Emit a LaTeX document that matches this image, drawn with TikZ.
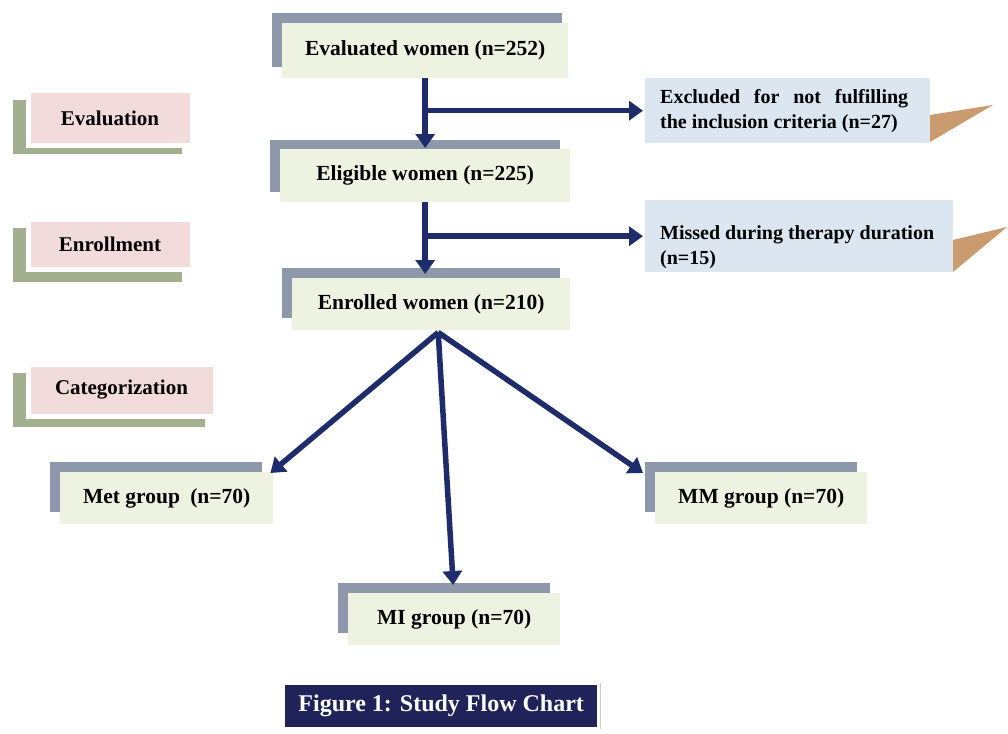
\documentclass[tikz,border=0pt]{standalone}
\usepackage{fontspec}
\setmainfont{Liberation Serif}
\usetikzlibrary{arrows.meta}
\definecolor{brgray}{HTML}{8D99AA}
\definecolor{boxg}{HTML}{EEF2E1}
\definecolor{sideb}{HTML}{DCE6F1}
\definecolor{tri}{HTML}{C99B6E}
\definecolor{pinkb}{HTML}{F2DCDB}
\definecolor{brgreen}{HTML}{A3B08F}
\definecolor{navy}{HTML}{1F2359}
\definecolor{arrowc}{HTML}{1F2C6B}
\begin{document}
\begin{tikzpicture}[x=1pt,y=-1pt,
  mainbox/.style={fill=boxg, anchor=north west, inner sep=0pt,
    font=\fontsize{21.5}{25}\selectfont\bfseries},
  sidebox/.style={fill=sideb, anchor=north west, inner sep=0pt},
  sidetext/.style={anchor=west, inner sep=0pt, align=left,
    font=\fontsize{20}{25}\selectfont\bfseries},
  labelbox/.style={fill=pinkb, draw=white, line width=5pt, anchor=north west,
    inner sep=0pt, font=\fontsize{21}{25}\selectfont\bfseries},
  bracket/.style={fill=brgray},
  gbracket/.style={fill=brgreen},
  foldtri/.style={fill=tri},
  arr/.style={draw=arrowc, line width=5.5pt, -{Triangle[length=14pt,width=19pt]}},
  captionbox/.style={fill=navy, anchor=north west, inner sep=0pt, text=white,
    font=\fontsize{24}{28}\selectfont\bfseries}
]
\useasboundingbox (0,0) rectangle (1008,733);
\fill[white] (0,0) rectangle (1008,733);

% ---- side labels (Evaluation / Enrollment / Categorization)
\fill[gbracket] (13,100) rectangle (182,154);
\node[labelbox, minimum width=164pt, minimum height=54pt] (lev) at (25.5,88.5) {Evaluation};
\fill[gbracket] (13,228) rectangle (182,282);
\node[labelbox, minimum width=164pt, minimum height=50pt] (len) at (25.5,216.5) {Enrollment};
\fill[gbracket] (13,373) rectangle (205,427);
\node[labelbox, minimum width=187pt, minimum height=52pt] (lca) at (25.5,361.5) {Categorization};

% ---- main flow boxes
\fill[bracket] (272,13) rectangle (562,67);
\node[mainbox, minimum width=286pt, minimum height=55pt] (eval) at (282,23) {Evaluated women (n=252)};

\fill[bracket] (270,140) rectangle (560,192);
\node[mainbox, minimum width=290pt, minimum height=53pt] (elig) at (280,149) {Eligible women (n=225)};

\fill[bracket] (282,268) rectangle (560,318);
\node[mainbox, minimum width=278pt, minimum height=52pt] (enr) at (292,278) {Enrolled women (n=210)};

\fill[bracket] (50,462) rectangle (262,512);
\node[mainbox, minimum width=213pt, minimum height=52pt] (met) at (60,472) {Met group\hspace{5pt} (n=70)};

\fill[bracket] (645,462) rectangle (857,512);
\node[mainbox, minimum width=212pt, minimum height=52pt] (mm) at (655,472) {MM group (n=70)};

\fill[bracket] (338,583) rectangle (550,633);
\node[mainbox, minimum width=212pt, minimum height=52pt] (mi) at (348,593) {MI group (n=70)};

% ---- exclusion boxes
\node[sidebox, minimum width=285pt, minimum height=65pt] (excl) at (645,78) {};
\fill[foldtri] (930,115) -- (993,105) -- (930,142) -- cycle;
\node[sidetext] (excltxt) at (660,111) {\makebox[248pt][s]{Excluded for not fulfilling}\\the inclusion criteria (n=27)};

\node[sidebox, minimum width=308pt, minimum height=72pt] (miss) at (645,200) {};
\fill[foldtri] (953,240) -- (1007,227) -- (953,272) -- cycle;
\node[sidetext] (misstxt) at (660,247) {Missed during therapy duration\\(n=15)};

% ---- caption
\draw[gray!40, line width=1pt] (600,683) -- (600,729);
\node[captionbox, minimum width=312pt, minimum height=42pt] (cap) at (285,685) {Figure 1: Study Flow Chart};

% ---- connectors
\draw[arr] (eval.south) -- ([yshift=1pt]eval.south |- elig.north);
\draw[arr] (eval.south |- excl.west) -- ([xshift=-2pt]excl.west);
\draw[arr] ([xshift=0pt]elig.south) -- ([yshift=4pt]elig.south |- enr.north);
\draw[arr] (elig.south |- miss.west) -- ([xshift=-2pt]miss.west);

\coordinate (fan) at ([xshift=7pt,yshift=-2pt]enr.south);
\draw[arr] (fan) -- ([xshift=-3pt,yshift=-1pt]met.north east);
\draw[arr] (fan) -- ([xshift=-1pt,yshift=8pt]mi.north);
\draw[arr] (fan) -- ([xshift=-12pt,yshift=-1pt]mm.north west);
\end{tikzpicture}
\end{document}
